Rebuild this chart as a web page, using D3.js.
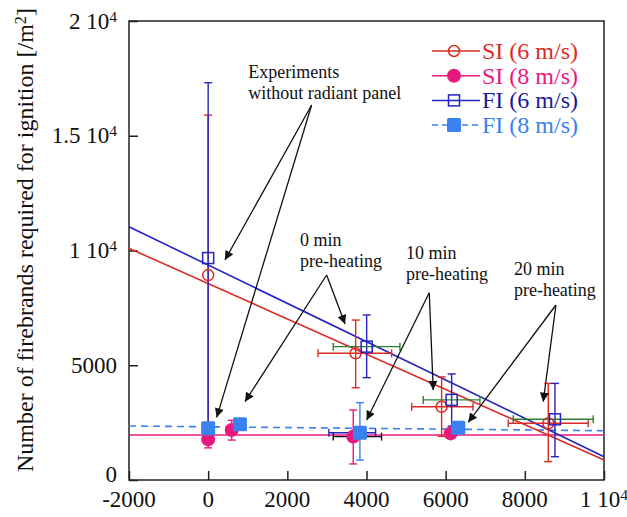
<!DOCTYPE html>
<html>
<head>
<meta charset="utf-8">
<script src="https://cdn.jsdelivr.net/npm/d3@7"></script>
<style>
  body { margin: 0; background: #fff; }
  svg text { font-family: "Liberation Serif", "Times New Roman", serif; }
</style>
</head>
<body>
<svg id="chart"></svg>
<script>
"use strict"

// ticks
var xTicks = [-2000, 0, 2000, 4000, 6000, 8000, 10000]
var yTicks = [0, 5000, 10000, 15000, 20000]

// SI (6 m/s) -- open red circles, red error bars both ways
var si6 = [
  {x: 0,    y: 8930, ylo: 1900, yhi: 15900},
  {x: 3726, y: 5520, ylo: 4020, yhi: 6970, xlo: 2775, xhi: 4635},
  {x: 5898, y: 3190, ylo: 1900, yhi: 4490, xlo: 5141, xhi: 6690},
  {x: 8592, y: 2470, ylo: 800,  yhi: 4210, xlo: 7581, xhi: 9600}
]
// SI (8 m/s) -- filled pink circles
var si8 = [
  {x: 0,    y: 1770, ylo: 1400, yhi: 2150},
  {x: 594,  y: 2180, ylo: 1740, yhi: 2600},
  {x: 3665, y: 1890, ylo: 700,  yhi: 3050, xlo: 3160, xhi: 4380},
  {x: 6125, y: 2030}
]
// FI (6 m/s) -- open blue squares, green horizontal error bars
var fi6 = [
  {x: 0,    y: 9670, ylo: 2200, yhi: 17310},
  {x: 4004, y: 5810, ylo: 4460, yhi: 7190, xlo: 3160, xhi: 4845},
  {x: 6151, y: 3490, ylo: 2350, yhi: 4620, xlo: 5434, xhi: 6866},
  {x: 8761, y: 2645, ylo: 1015, yhi: 4210, xlo: 7708, xhi: 9728}
]
// FI (8 m/s) -- filled light blue squares
var fi8 = [
  {x: 0,    y: 2250},
  {x: 803,  y: 2430},
  {x: 3834, y: 2060, ylo: 870, yhi: 3370, xlo: 3050, xhi: 4230},
  {x: 6318, y: 2280}
]

// fitted lines [x, y] at both ends
var fitSi6 = [[-2000, 10095], [10000, 871]]
var fitFi6 = [[-2000, 11036], [10000, 1015]]
var fitSi8 = [[-2000, 1960], [10000, 1960]]
var fitFi8 = [[-2000, 2353], [10000, 2148]]

// annotations: label lines, label anchor (left, first baseline), arrow apex, arrow tips
var notes = [
  {lines: ["Experiments", "without radiant panel"], at: [1013, 17515],
   from: [2614, 16340], to: [[424, 9585], [215, 2727]]},
  {lines: ["0 min", "pre-heating"], at: [2319, 10195],
   from: [2993, 8932], to: [[3458, 6797], [930, 3412]]},
  {lines: ["10 min", "pre-heating"], at: [4996, 9629],
   from: [5585, 8161], to: [[5686, 3921], [4004, 2614]]},
  {lines: ["20 min", "pre-heating"], at: [7724, 8932],
   from: [8786, 7625], to: [[8465, 3412], [6570, 2514]]}
]

var legendItems = ["SI (6 m/s)", "SI (8 m/s)", "FI (6 m/s)", "FI (8 m/s)"]

var colors = {
  si6: "#dd2a22", si8: "#e8197d", fi6: "#2424c0", fi6Text: "#1a1a9a",
  fi8: "#3a82f0", green: "#2a8030", black: "#111"
}
var serif = "'Liberation Serif', 'Times New Roman', serif"

var W = 627, H = 517
var plot = {left: 129, right: 604, top: 21, bottom: 480}

var svg = d3.select("#chart").attr("width", W).attr("height", H)

var x = d3.scaleLinear().domain([-2000, 10000]).range([plot.left, plot.right])
var y = d3.scaleLinear().domain([0, 20000]).range([plot.bottom, plot.top])

svg.append("defs").append("marker")
  .attr("id", "head")
  .attr("viewBox", "0 0 10 10")
  .attr("refX", 10).attr("refY", 5)
  .attr("markerWidth", 12).attr("markerHeight", 9)
  .attr("markerUnits", "userSpaceOnUse")
  .attr("orient", "auto")
  .append("path").attr("d", "M0,0 L10,5 L0,10 z").attr("fill", "#111")

// writes "a 10^b" style labels
function sciLabel(sel, v) {
  if (v >= 10000) {
    var m = v / 10000
    sel.text(null)
    sel.append("tspan").text(m + " 10")
    sel.append("tspan").attr("dy", "-0.45em").attr("font-size", "0.68em").text("4")
  } else {
    sel.text(v)
  }
}

// frame
svg.append("rect")
  .attr("x", plot.left).attr("y", plot.top)
  .attr("width", plot.right - plot.left).attr("height", plot.bottom - plot.top)
  .attr("fill", "none").attr("stroke", "#222").attr("stroke-width", 1.5)

// axes with inward ticks
var xAxis = svg.append("g").attr("transform", "translate(0," + plot.bottom + ")")
  .call(d3.axisBottom(x).tickValues(xTicks).tickSizeInner(-9).tickSizeOuter(0).tickFormat(""))
var yAxis = svg.append("g").attr("transform", "translate(" + plot.left + ",0)")
  .call(d3.axisLeft(y).tickValues(yTicks).tickSizeInner(-9).tickSizeOuter(0).tickFormat(""))
;[xAxis, yAxis].forEach(function(a) {
  a.select(".domain").remove()
  a.selectAll(".tick line").attr("stroke", "#222").attr("stroke-width", 1.5)
})

svg.selectAll(".xlab").data(xTicks).enter().append("text")
  .attr("x", function(d) { return x(d) }).attr("y", 507)
  .attr("text-anchor", "middle").attr("font-family", serif).attr("font-size", 23).attr("fill", "#111")
  .each(function(d) { sciLabel(d3.select(this), d) })

svg.selectAll(".ylab").data(yTicks).enter().append("text")
  .attr("x", 117).attr("y", function(d) { return d == 0 ? y(d) - 6 : y(d) })
  .attr("dy", "0.33em")
  .attr("text-anchor", "end").attr("font-family", serif).attr("font-size", 23).attr("fill", "#111")
  .each(function(d) { sciLabel(d3.select(this), d) })

var title = svg.append("text")
  .attr("transform", "translate(33,240) rotate(-90)")
  .attr("text-anchor", "middle").attr("font-family", serif).attr("font-size", 24).attr("fill", "#111")
title.append("tspan").text("Number of firebrands required for ignition [/m")
title.append("tspan").attr("dy", "-0.45em").attr("font-size", "0.68em").text("2")
title.append("tspan").attr("dy", "0.3em").text("]")

// fitted lines
var line = d3.line().x(function(d) { return x(d[0]) }).y(function(d) { return y(d[1]) })
var fits = [
  {pts: fitSi8, c: colors.si8, dash: null},
  {pts: fitFi8, c: colors.fi8, dash: "7,5"},
  {pts: fitSi6, c: colors.si6, dash: null},
  {pts: fitFi6, c: colors.fi6, dash: null}
]
svg.selectAll(".fit").data(fits).enter().append("path")
  .attr("d", function(d) { return line(d.pts) })
  .attr("fill", "none").attr("stroke", function(d) { return d.c })
  .attr("stroke-width", 1.6).attr("stroke-dasharray", function(d) { return d.dash })

// error bars
function errorBars(data, vColor, hColor) {
  var g = svg.append("g").attr("stroke-width", 1.4)
  var cap = 4
  data.forEach(function(d) {
    if (d.ylo != null) {
      var px = x(d.x)
      g.append("line").attr("x1", px).attr("x2", px).attr("y1", y(d.ylo)).attr("y2", y(d.yhi)).attr("stroke", vColor)
      ;[d.ylo, d.yhi].forEach(function(v) {
        g.append("line").attr("x1", px - cap).attr("x2", px + cap).attr("y1", y(v)).attr("y2", y(v)).attr("stroke", vColor)
      })
    }
    if (d.xlo != null) {
      var py = y(d.y)
      g.append("line").attr("x1", x(d.xlo)).attr("x2", x(d.xhi)).attr("y1", py).attr("y2", py).attr("stroke", hColor)
      ;[d.xlo, d.xhi].forEach(function(v) {
        g.append("line").attr("x1", x(v)).attr("x2", x(v)).attr("y1", py - cap).attr("y2", py + cap).attr("stroke", hColor)
      })
    }
  })
}
errorBars(si6, colors.si6, colors.si6)
errorBars(fi6, colors.fi6, colors.green)
errorBars(si8, colors.si8, colors.black)
errorBars(fi8, colors.fi8, colors.fi6)

// markers
function drawMarker(g, kind, px, py) {
  if (kind == "si6") {
    g.append("circle").attr("cx", px).attr("cy", py).attr("r", 5.5)
      .attr("fill", "none").attr("stroke", colors.si6).attr("stroke-width", 1.5)
  } else if (kind == "si8") {
    g.append("circle").attr("cx", px).attr("cy", py).attr("r", 7).attr("fill", colors.si8)
  } else if (kind == "fi6") {
    g.append("rect").attr("x", px - 5.5).attr("y", py - 5.5).attr("width", 11).attr("height", 11)
      .attr("fill", "none").attr("stroke", colors.fi6).attr("stroke-width", 1.5)
  } else {
    g.append("rect").attr("x", px - 7).attr("y", py - 7).attr("width", 14).attr("height", 14)
      .attr("rx", 1.5).attr("fill", colors.fi8)
  }
}
var marks = svg.append("g")
;[["si8", si8], ["fi8", fi8], ["si6", si6], ["fi6", fi6]].forEach(function(s) {
  s[1].forEach(function(d) { drawMarker(marks, s[0], x(d.x), y(d.y)) })
})

// annotations
var ann = svg.append("g")
notes.forEach(function(n) {
  var t = ann.append("text").attr("font-family", serif).attr("font-size", 18).attr("fill", "#111")
  n.lines.forEach(function(s, i) {
    t.append("tspan").attr("x", x(n.at[0])).attr("y", y(n.at[1]) + i * 21).text(s)
  })
  n.to.forEach(function(tip) {
    ann.append("line")
      .attr("x1", x(n.from[0])).attr("y1", y(n.from[1]))
      .attr("x2", x(tip[0])).attr("y2", y(tip[1]))
      .attr("stroke", "#111").attr("stroke-width", 1.3)
      .attr("marker-end", "url(#head)")
  })
})

// legend
var leg = svg.append("g").attr("transform", "translate(432,51)")
var legKinds = ["si6", "si8", "fi6", "fi8"]
var legColors = [colors.si6, colors.si8, colors.fi6Text, colors.fi8]
var legLine = [colors.si6, colors.si8, colors.fi6, colors.fi8]
legendItems.forEach(function(label, i) {
  var row = leg.append("g").attr("transform", "translate(0," + (i * 24.7) + ")")
  row.append("line").attr("x1", 0).attr("x2", 48).attr("y1", 0).attr("y2", 0)
    .attr("stroke", legLine[i]).attr("stroke-width", 1.5)
    .attr("stroke-dasharray", i == 3 ? "6,4" : null)
  drawMarker(row, legKinds[i], 22, 0)
  row.append("text").attr("x", 50).attr("y", 8).attr("font-family", serif).attr("font-size", 24)
    .attr("fill", legColors[i]).text(label)
})
</script>
</body>
</html>
